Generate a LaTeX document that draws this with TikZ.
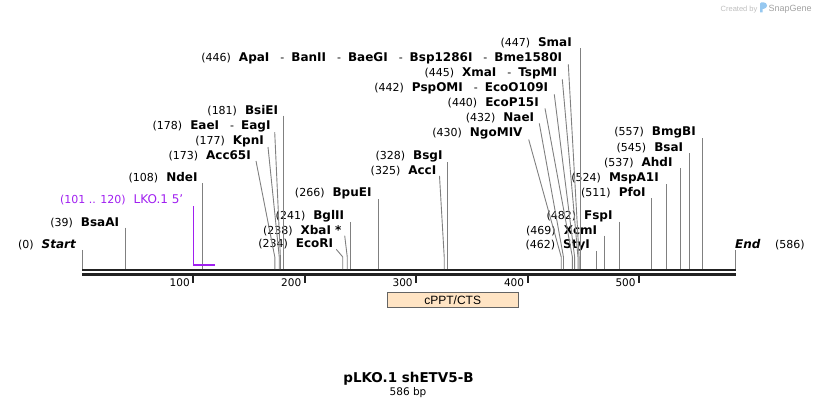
\documentclass[tikz,border=0pt]{standalone}
\usepackage{fontspec}
\setmainfont{DejaVu Sans}
\newfontfamily\featfont{Liberation Sans}
\usepackage{tikz}
\definecolor{siteGray}{RGB}{128,128,128}
\definecolor{bbDark}{RGB}{34,34,34}
\definecolor{lkoPurple}{RGB}{160,32,240}
\definecolor{featFill}{RGB}{255,228,196}
\definecolor{featBorder}{RGB}{100,100,100}
\definecolor{logoGray}{RGB}{190,190,190}
\definecolor{logoBlue}{RGB}{150,200,240}

\newcommand{\cutpos}[1]{{\fontsize{11}{13}\selectfont(#1)}\hspace{8pt}}
\newcommand{\enz}[1]{{\fontsize{12}{14}\selectfont\bfseries #1}}
\newcommand{\enzit}[1]{{\fontsize{12}{14}\selectfont\bfseries\itshape #1}}
\newcommand{\andcut}{{\fontsize{11}{13}\selectfont\hspace{11pt}-\hspace{7pt}}}

\begin{document}
\begin{tikzpicture}[x=1pt, y=-1pt, inner sep=0pt,
		siteline/.style={draw=siteGray, line width=0.9pt},
		bbline/.style={draw=bbDark},
		tickmark/.style={draw=bbDark, line width=2pt},
		primerline/.style={color=lkoPurple}]
		\useasboundingbox (0,0) rectangle (818,408);

		% Logo
		\node (created) at (739,8) [anchor=base, text=logoGray, yshift=-3pt] {\featfont\fontsize{7.5}{9}\selectfont Created by};
		\fill[logoBlue] (760,12.3) -- (760,3.5) .. controls (760,1.5) and (767,1.5) .. (767,5.5) .. controls (767,8.5) and (763,9) .. (762.5,9) -- (762.5,12.3) -- cycle;
		\node (snapgene) at (768.5,11) [anchor=base west, text=logoGray!85!black] {\featfont\fontsize{9}{11}\selectfont SnapGene};

		% Backbone
		\coordinate (bbL1) at (82,270.2);
		\coordinate (bbR1) at (735.7,270.2);
		\coordinate (bbL2) at (82,274.2);
		\coordinate (bbR2) at (735.7,274.2);
		\draw[bbline, line width=2.3pt] (bbL1) -- (bbR1);
		\draw[bbline, line width=3pt] (bbL2) -- (bbR2);
		\coordinate (bend) at (0,257);

		% Cut sites on the sequence
		\begin{scope}[x=1.1145pt, xshift=82pt]
			\coordinate (sStart) at (0,269);
			\coordinate (sBsaAI) at (39,269);
			\coordinate (sNdeI) at (108,269);
			\coordinate (sAcc65I) at (173,269);
			\coordinate (sKpnI) at (177,269);
			\coordinate (sEaeI) at (178,269);
			\coordinate (sBsiEI) at (181,269);
			\coordinate (sEcoRI) at (234,269);
			\coordinate (sXbaI) at (238,269);
			\coordinate (sBglII) at (241,269);
			\coordinate (sBpuEI) at (266,269);
			\coordinate (sAccI) at (325,269);
			\coordinate (sBsgI) at (328,269);
			\coordinate (sNgoMIV) at (430,269);
			\coordinate (sNaeI) at (432,269);
			\coordinate (sEcoP15I) at (440,269);
			\coordinate (sPspOMI) at (442,269);
			\coordinate (sXmaI) at (445,269);
			\coordinate (sApaI) at (446,269);
			\coordinate (sSmaI) at (447,269);
			\coordinate (sStyI) at (462,269);
			\coordinate (sXcmI) at (469,269);
			\coordinate (sFspI) at (482,269);
			\coordinate (sPfoI) at (511,269);
			\coordinate (sMspA1I) at (524,269);
			\coordinate (sAhdI) at (537,269);
			\coordinate (sBsaI) at (545,269);
			\coordinate (sBmgBI) at (557,269);
			\coordinate (sEnd) at (586,269);
			% Ruler
			\foreach \t in {100,200,...,500} {
				\coordinate (ta\t) at (\t,275.7);
				\coordinate (tb\t) at (\t,282.7);
				\draw[tickmark] (ta\t) -- (tb\t);
				\node (tk\t) at (\t,286) [anchor=base east, xshift=-3.5pt] {\fontsize{10.5}{12}\selectfont\t};
			}
		\end{scope}

		% Enzyme names
		\begin{scope}[every node/.style={anchor=base east}]
			\node (lStart) at (76,248.3) {\cutpos{0}\enzit{Start}};
			\node (lBsaAI) at (119.3,226) {\cutpos{39}\enz{BsaAI}};
			\node (lNdeI) at (197.7,181.7) {\cutpos{108}\enz{NdeI}};
			\node (lAcc65I) at (251,159.3) {\cutpos{173}\enz{Acc65I}};
			\node (lKpnI) at (264,144.3) {\cutpos{177}\enz{KpnI}};
			\node (lEaeI) at (270.7,129.3) {\cutpos{178}\enz{EaeI}\andcut\enz{EagI}};
			\node (lBsiEI) at (278.3,114) {\cutpos{181}\enz{BsiEI}};
			\node (lEcoRI) at (333.3,247.7) {\cutpos{234}\enz{EcoRI}};
			\node (lXbaI) at (341.7,234) {\cutpos{238}\enz{XbaI *}};
			\node (lBglII) at (344.3,219) {\cutpos{241}\enz{BglII}};
			\node (lBpuEI) at (371.7,196.7) {\cutpos{266}\enz{BpuEI}};
			\node (lAccI) at (436.5,174.3) {\cutpos{325}\enz{AccI}};
			\node (lBsgI) at (442.7,159.3) {\cutpos{328}\enz{BsgI}};
			\node (lNgoMIV) at (522.7,136.7) {\cutpos{430}\enz{NgoMIV}};
			\node (lNaeI) at (534.3,121.7) {\cutpos{432}\enz{NaeI}};
			\node (lEcoP15I) at (539,106.7) {\cutpos{440}\enz{EcoP15I}};
			\node (lPspOMI) at (548.3,91.7) {\cutpos{442}\enz{PspOMI}\andcut\enz{EcoO109I}};
			\node (lXmaI) at (557.3,76.7) {\cutpos{445}\enz{XmaI}\andcut\enz{TspMI}};
			\node (lApaI) at (562.3,61.7) {\cutpos{446}\enz{ApaI}\andcut\enz{BanII}\andcut\enz{BaeGI}\andcut\enz{Bsp1286I}\andcut\enz{Bme1580I}};
			\node (lSmaI) at (572,46.7) {\cutpos{447}\enz{SmaI}};
			\node (lStyI) at (590,248) {\cutpos{462}\enz{StyI}};
			\node (lXcmI) at (597.3,234) {\cutpos{469}\enz{XcmI}};
			\node (lFspI) at (612.7,219) {\cutpos{482}\enz{FspI}};
			\node (lPfoI) at (645.7,196.7) {\cutpos{511}\enz{PfoI}};
			\node (lMspA1I) at (659,181.7) {\cutpos{524}\enz{MspA1I}};
			\node (lAhdI) at (672.7,166.7) {\cutpos{537}\enz{AhdI}};
			\node (lBsaI) at (683.3,151.7) {\cutpos{545}\enz{BsaI}};
			\node (lBmgBI) at (696,135.7) {\cutpos{557}\enz{BmgBI}};
		\end{scope}
		\node (lEnd) at (735,248.3) [anchor=base west] {\enzit{End}\hspace{14.5pt}{\fontsize{11}{13}\selectfont(586)}};

		% Lines to the cut sites
		\foreach \n in {Start,BsaAI,NdeI,BsiEI,BglII,BpuEI,BsgI,SmaI,StyI,XcmI,FspI,PfoI,MspA1I,AhdI,BsaI,BmgBI}
			\draw[siteline] (s\n |- l\n.south) -- (s\n);
		\draw[siteline] (sEnd |- lEnd.south) -- (sEnd);
		\foreach \n/\dx in {Acc65I/5,KpnI/4,EaeI/4,EcoRI/3,XbaI/3,AccI/3,NgoMIV/6,NaeI/5,EcoP15I/6,PspOMI/6,XmaI/5,ApaI/6}
			\draw[siteline] ([xshift=\dx pt]l\n.south east) -- (s\n |- bend) -- (s\n);

		% LKO.1 5' primer
		\node (lLKO) at (183.5,203.5) [anchor=base east, text=lkoPurple] {{\fontsize{11}{13}\selectfont(101 .. 120)}\hspace{8pt}{\fontsize{12}{14}\selectfont LKO.1 5'}};
		\coordinate (lkoTop) at (193.6,206);
		\coordinate (lkoL) at (193.6,265.4);
		\coordinate (lkoR) at (214.6,265.4);
		\draw[primerline, line width=1.5pt] (lkoTop) -- (lkoL);
		\draw[primerline, line width=2pt] ([xshift=-0.75pt]lkoL) -- (lkoR);

		% Feature
		\node (cppt) at (452.7,300) [draw=featBorder, fill=featFill, line width=1pt, minimum width=130.7pt, minimum height=15pt] {\featfont\fontsize{12}{14}\selectfont cPPT/CTS};

		% Title
		\node (title) at (408.5,382) [anchor=base] {\fontsize{13.5}{16}\selectfont\bfseries pLKO.1 shETV5-B};
		\node (size) at (408,395) [anchor=base] {\fontsize{10.5}{12}\selectfont 586 bp};
	\end{tikzpicture}
\end{document}
